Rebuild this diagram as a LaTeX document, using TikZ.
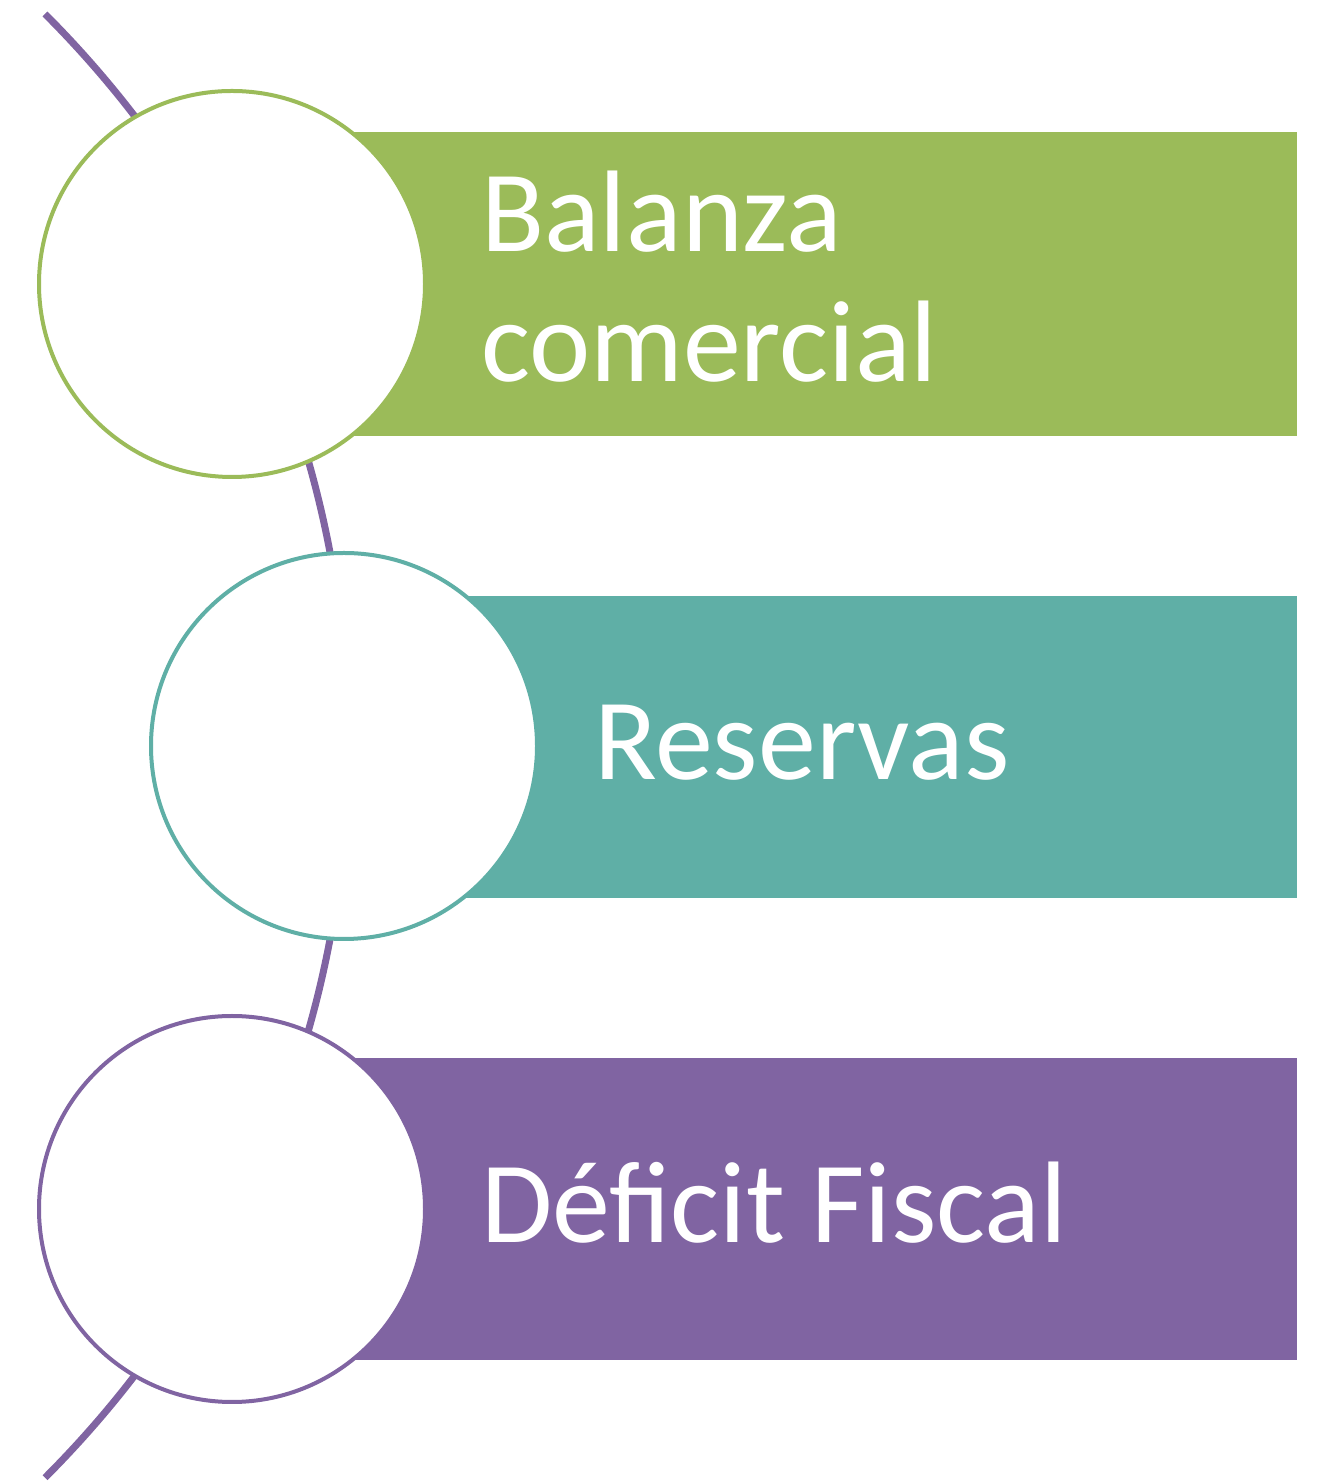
\documentclass[tikz,border=0pt]{standalone}
\usepackage{fontspec}
\setmainfont{Carlito}
\definecolor{cgreen}{HTML}{9BBB59}
\definecolor{cteal}{HTML}{5FAFA6}
\definecolor{cpurple}{HTML}{8064A2}
\begin{document}
\begin{tikzpicture}[x=1pt,y=1pt,
  bar/.style={fill=#1,draw=none},
  ring/.style={circle,draw=#1,line width=4pt,fill=white,minimum size=386pt,inner sep=0pt},
  label/.style={text=white,font=\fontsize{116}{130}\selectfont,anchor=base west,inner sep=0pt}]
\useasboundingbox (0,0) rectangle (1324,1483);
\coordinate (arcstart) at (45,1469);
\draw[cpurple,line width=7pt] (arcstart) arc[start angle=45,end angle=-45,radius=1035pt] coordinate (arcend);
\fill[cgreen] (232,1047) rectangle (1297,1351);
\fill[cteal] (344,585) rectangle (1297,887);
\fill[cpurple] (232,123) rectangle (1297,425);
\node[ring=cgreen] (c1) at (232,1199) {};
\node[ring=cteal] (c2) at (344,737) {};
\node[ring=cpurple] (c3) at (232,274) {};
\node[label] (t1a) at (481,1231) {Balanza};
\node[label] (t1b) at (481,1101) {comercial};
\node[label] (t2) at (594,703) {Reservas};
\node[label] (t3) at (481,240) {Déficit Fiscal};
\end{tikzpicture}
\end{document}
